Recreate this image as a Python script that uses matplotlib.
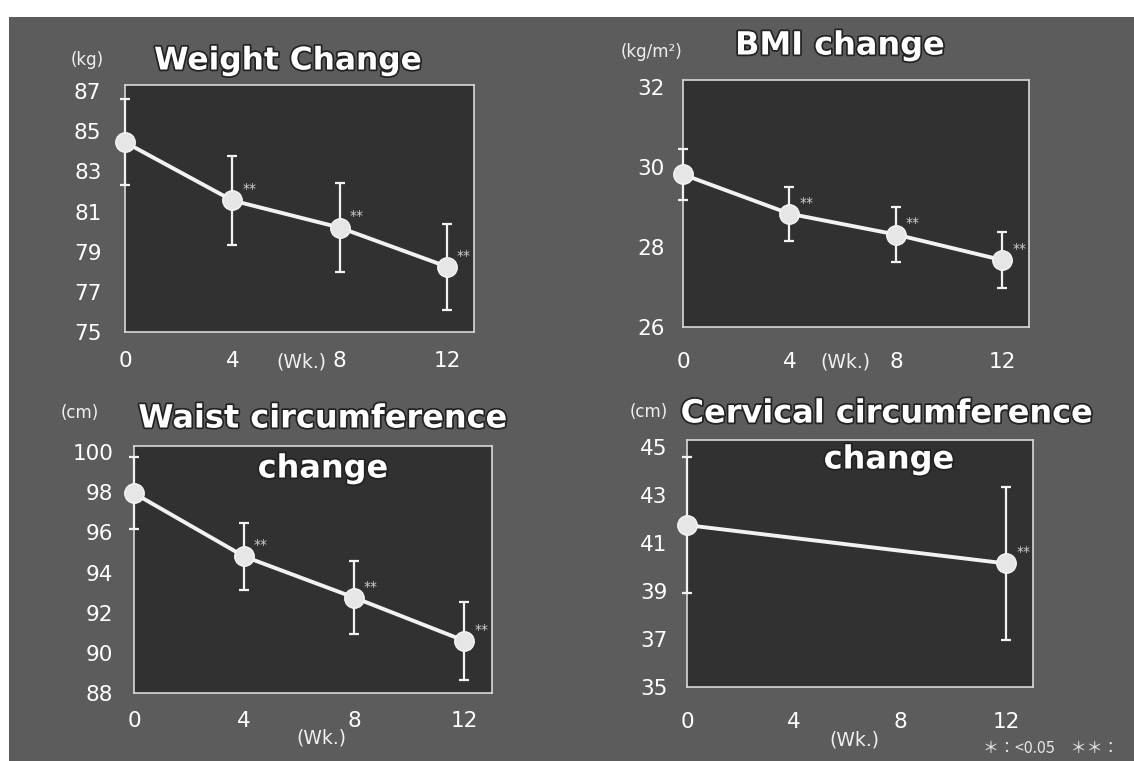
import matplotlib
matplotlib.use("Agg")
import matplotlib.pyplot as plt
from matplotlib.patches import Rectangle
import matplotlib.patheffects as pe

# ---------------- data ----------------
weeks = [0, 4, 8, 12]
weight_mean = [84.45, 81.55, 80.2, 78.25]
weight_sd = [2.15, 2.2, 2.2, 2.15]
bmi_mean = [29.81, 28.83, 28.31, 27.67]
bmi_sd = [0.64, 0.67, 0.68, 0.70]
waist_mean = [97.95, 94.8, 92.75, 90.6]
waist_sd = [1.8, 1.65, 1.8, 1.95]
cerv_weeks = [0, 12]
cerv_mean = [41.75, 40.15]
cerv_sd = [2.85, 3.2]

x_ticks = [0, 4, 8, 12]
weight_ticks = [75, 77, 79, 81, 83, 85, 87]
bmi_ticks = [26, 28, 30, 32]
waist_ticks = [88, 90, 92, 94, 96, 98, 100]
cerv_ticks = [35, 37, 39, 41, 43, 45]

sig_weight = ["", "**", "**", "**"]
sig_bmi = ["", "**", "**", "**"]
sig_waist = ["", "**", "**", "**"]
sig_cerv = ["", "**"]

W, H = 1134, 761
fig = plt.figure(figsize=(W / 100, H / 100), dpi=100, facecolor="white")

OUTER = "#5c5c5c"
INNER = "#313131"
FG = "#f2f2f2"

# slide background
fig.patches.append(Rectangle((9 / W, 0), 1 - 9 / W, 1 - 17 / H, transform=fig.transFigure,
                             facecolor=OUTER, edgecolor="none", zorder=-10))


def fx(px):
    return px / W


def fy(py):
    return 1 - py / H


def panel(box, xs, mean, sd, sig, ylim, yticks, xpad, ypad):
    l, r, t, b = box
    ax = fig.add_axes([fx(l), fy(b), fx(r - l), (b - t) / H])
    ax.set_facecolor(INNER)
    for s in ax.spines.values():
        s.set_color("#d8d8d8")
        s.set_linewidth(1.2)
    ax.plot(xs, mean, color=FG, lw=2.8, zorder=3, clip_on=False)
    ax.errorbar(xs, mean, yerr=sd, fmt="none", ecolor=FG, elinewidth=1.6,
                capsize=3.3, capthick=1.6, zorder=4, clip_on=False)
    ax.plot(xs, mean, "o", ms=14, color="#e6e6e6", mec="#f5f5f5", zorder=5, clip_on=False)
    for x, y, s in zip(xs, mean, sig):
        if s:
            ax.annotate(s, (x, y), xytext=(7, 8), textcoords="offset points",
                        ha="left", va="center", color="#d0d0d0", fontsize=10, zorder=6)
    ax.set_xlim(0, 13)
    ax.set_ylim(*ylim)
    ax.set_xticks(x_ticks)
    ax.set_yticks(yticks)
    ax.tick_params(length=0, colors="white", labelsize=15.5)
    ax.tick_params(axis="x", pad=xpad)
    ax.tick_params(axis="y", pad=ypad)
    return ax


shadow = [pe.withStroke(linewidth=2.5, foreground="#222222")]


def title(text, x, y, size=23):
    fig.text(fx(x), fy(y), text, ha="center", va="center", color="white",
             fontsize=size, fontweight="bold", family="DejaVu Sans", path_effects=shadow)


def small(text, x, y, size=12, ha="center"):
    fig.text(fx(x), fy(y), text, ha=ha, va="center", color="#f0f0f0", fontsize=size)


# Weight
panel((125, 474, 85, 332), weeks, weight_mean, weight_sd, sig_weight,
      (75, 87.3), weight_ticks, 14, 17)
title("Weight Change", 288, 61, 22.5)
small("(kg)", 87, 60)
small("(Wk.)", 326, 362, 13.5, ha="right")

# BMI
panel((683, 1029, 80, 327), weeks, bmi_mean, bmi_sd, sig_bmi,
      (26, 32.17), bmi_ticks, 18, 13)
title("BMI change", 840, 46)
small("(kg/m²)", 651, 52)
small("(Wk.)", 845, 362, 13.5)

# Waist
panel((134, 492, 446, 693), weeks, waist_mean, waist_sd, sig_waist,
      (88, 100.3), waist_ticks, 13, 15)
title("Waist circumference", 323, 419)
title("change", 323, 469)
small("(cm)", 80, 413)
small("(Wk.)", 321, 738, 13.5)

# Cervical
panel((687, 1033, 440, 687), cerv_weeks, cerv_mean, cerv_sd, sig_cerv,
      (35, 45.3), cerv_ticks, 18, 14)
title("Cervical circumference", 887, 414)
title("change", 889, 460)
small("(cm)", 649, 412)
small("(Wk.)", 854, 740, 13.5)

fig.text(fx(983), fy(748), "＊：<0.05　＊＊：", ha="left", va="center", color="#e8e8e8",
         fontsize=11.5, family=["Noto Sans CJK JP", "DejaVu Sans"])

fig.savefig("out.png", dpi=100, facecolor="white")
